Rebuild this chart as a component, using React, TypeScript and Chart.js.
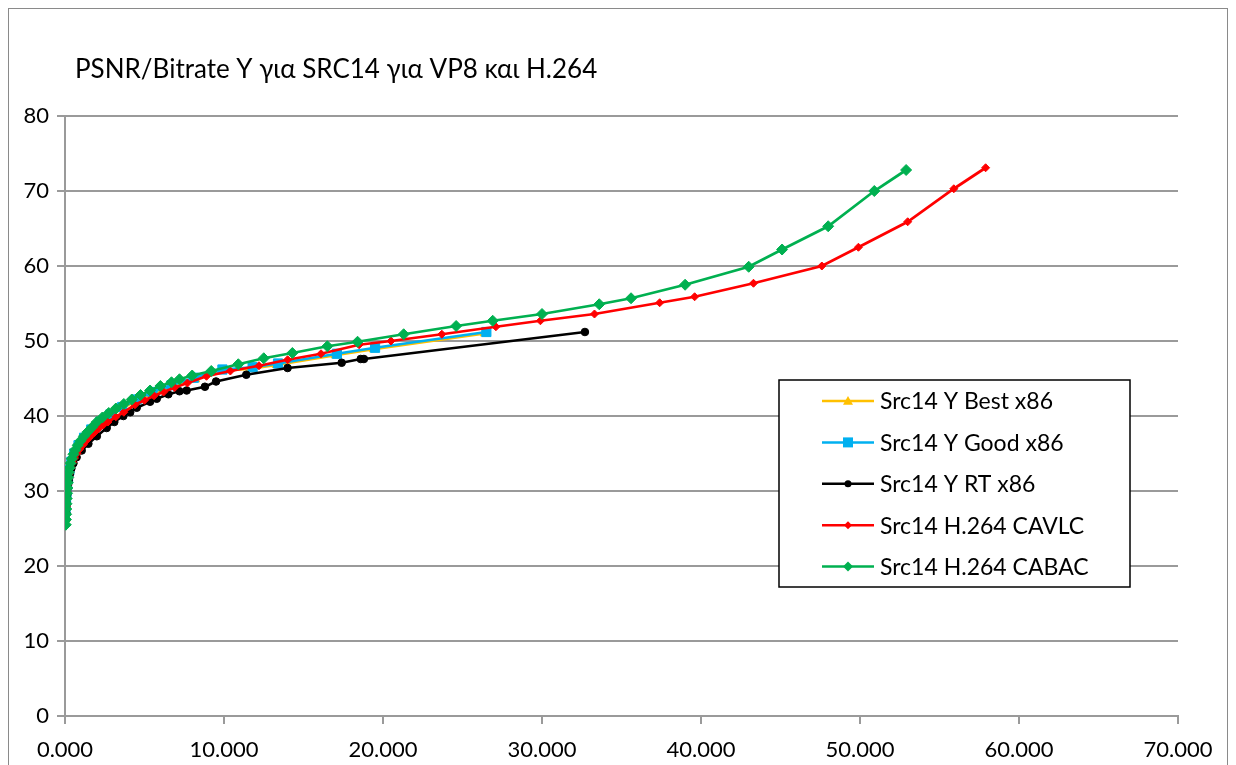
import React, { useEffect, useRef } from 'react';
import { Chart, registerables } from 'chart.js';

Chart.register(...registerables);

const chartTitle = 'PSNR/Bitrate Y για SRC14 για VP8 και H.264';
const seriesNames = [
  'Src14 Y Best x86',
  'Src14 Y Good x86',
  'Src14 Y RT x86',
  'Src14 H.264 CAVLC',
  'Src14 H.264 CABAC',
];
const xTickLabels = ['0.000', '10.000', '20.000', '30.000', '40.000', '50.000', '60.000', '70.000'];
const yTickValues = [0, 10, 20, 30, 40, 50, 60, 70, 80];

const bestX = [35, 50, 70, 95, 135, 200, 290, 410, 600, 870, 1230, 1680, 2250, 2900, 3650, 4550, 5600, 6800, 8200, 9800, 11700, 13300, 17000, 19400, 26400];
const bestY = [27.2, 28.1, 28.9, 29.6, 30.4, 31.4, 32.6, 33.7, 34.8, 35.9, 37.0, 38.0, 39.1, 40.1, 41.1, 42.1, 43.0, 44.0, 44.9, 46.0, 46.3, 46.8, 48.1, 48.9, 51.0];

const goodX = [30, 45, 65, 90, 130, 190, 280, 400, 580, 850, 1200, 1650, 2200, 2850, 3600, 4500, 5500, 6700, 8100, 9900, 11800, 13400, 17100, 19500, 26500];
const goodY = [27.4, 28.3, 29.1, 29.8, 30.6, 31.6, 32.8, 33.9, 35.0, 36.1, 37.1, 38.2, 39.2, 40.2, 41.2, 42.2, 43.2, 44.1, 45.1, 46.2, 46.5, 47.0, 48.3, 49.1, 51.2];

const rtX = [90, 110, 140, 180, 230, 300, 400, 530, 730, 1050, 1470, 2000, 2620, 3100, 3670, 4100, 4510, 5350, 5770, 6500, 7200, 7650, 8800, 9500, 11400, 14000, 17400, 18600, 18800, 32700];
const rtY = [27.0, 28.3, 29.5, 30.5, 31.4, 32.2, 33.0, 33.7, 34.5, 35.4, 36.3, 37.3, 38.4, 39.2, 40.0, 40.5, 41.1, 41.9, 42.3, 42.9, 43.3, 43.4, 43.9, 44.6, 45.5, 46.4, 47.1, 47.6, 47.6, 51.2];

const cavlcX = [70, 85, 100, 120, 150, 190, 240, 300, 380, 480, 600, 750, 930, 1150, 1380, 1600, 1850, 2100, 2400, 2700, 3200, 3700, 4400, 5000, 5600, 6200, 6900, 7700, 8900, 10400, 12200, 14000, 16100, 18500, 20500, 23700, 27100, 29900, 33300, 37400, 39600, 43300, 47600, 49900, 53000, 55900, 57900];
const cavlcY = [26.0, 27.0, 28.0, 29.0, 30.0, 30.9, 31.7, 32.4, 33.1, 33.8, 34.4, 35.0, 35.6, 36.2, 36.8, 37.3, 37.8, 38.3, 38.8, 39.2, 39.9, 40.5, 41.5, 42.1, 42.7, 43.2, 43.8, 44.4, 45.3, 46.0, 46.7, 47.5, 48.3, 49.5, 50.0, 50.9, 51.9, 52.7, 53.6, 55.1, 55.9, 57.7, 60.0, 62.5, 65.9, 70.3, 73.1];

const cabacX = [50, 60, 70, 80, 95, 110, 130, 150, 175, 205, 240, 290, 350, 430, 530, 650, 800, 980, 1190, 1430, 1700, 2000, 2350, 2750, 3200, 3700, 4200, 4750, 5350, 6000, 6700, 7200, 8000, 9200, 10900, 12500, 14300, 16500, 18400, 21300, 24600, 26900, 30000, 33600, 35600, 39000, 43000, 45100, 48000, 50900, 52900];
const cabacY = [25.5, 26.2, 26.9, 27.6, 28.3, 29.0, 29.7, 30.4, 31.1, 31.8, 32.5, 33.1, 33.7, 34.3, 34.9, 35.5, 36.1, 36.7, 37.3, 37.9, 38.5, 39.2, 39.8, 40.4, 41.0, 41.6, 42.2, 42.8, 43.4, 44.0, 44.5, 44.9, 45.4, 46.0, 46.9, 47.7, 48.4, 49.3, 49.9, 50.9, 52.0, 52.7, 53.6, 54.9, 55.7, 57.5, 59.9, 62.2, 65.3, 70.0, 72.8];

const seriesColors = ['#FFC000', '#00B0F0', '#000000', '#FF0000', '#00B050'];
const FONT = 'Lato, "Open Sans", "Noto Sans", sans-serif';

const toPoints = (xs: number[], ys: number[]) => xs.map((x, i) => ({ x, y: ys[i] }));

function drawMarker(ctx: CanvasRenderingContext2D, style: string, x: number, y: number, r: number, color: string) {
  ctx.save();
  ctx.fillStyle = color;
  ctx.beginPath();
  if (style === 'triangle') {
    ctx.moveTo(x, y - r);
    ctx.lineTo(x + r, y + r * 0.75);
    ctx.lineTo(x - r, y + r * 0.75);
    ctx.closePath();
  } else if (style === 'rect') {
    ctx.rect(x - r, y - r, 2 * r, 2 * r);
  } else if (style === 'circle') {
    ctx.arc(x, y, r, 0, Math.PI * 2);
  } else {
    ctx.moveTo(x - r, y);
    ctx.lineTo(x, y - r);
    ctx.lineTo(x + r, y);
    ctx.lineTo(x, y + r);
    ctx.closePath();
  }
  ctx.fill();
  ctx.restore();
}

const legendMarkers = [
  { style: 'triangle', r: 5 },
  { style: 'rect', r: 5 },
  { style: 'circle', r: 3.5 },
  { style: 'rectRot', r: 4 },
  { style: 'rectRot', r: 5 },
];

const titlePlugin = {
  id: 'leftTitle',
  afterDraw(chart: any) {
    const ctx = chart.ctx as CanvasRenderingContext2D;
    ctx.save();
    ctx.font = `26px ${FONT}`;
    ctx.fillStyle = '#000';
    ctx.textAlign = 'left';
    ctx.textBaseline = 'middle';
    ctx.fillText(chartTitle, 66, 61);
    ctx.restore();
  },
};

const boxLegendPlugin = {
  id: 'boxLegend',
  afterDraw(chart: any) {
    const ctx = chart.ctx as CanvasRenderingContext2D;
    const bx = 770, by = 371, bw = 351, bh = 207;
    ctx.save();
    ctx.fillStyle = '#ffffff';
    ctx.fillRect(bx, by, bw, bh);
    ctx.strokeStyle = '#000000';
    ctx.lineWidth = 1.5;
    ctx.strokeRect(bx, by, bw, bh);
    chart.data.datasets.forEach((ds: any, i: number) => {
      const cy = by + 21 + i * 41.4;
      ctx.strokeStyle = ds.borderColor;
      ctx.lineWidth = 2.5;
      ctx.beginPath();
      ctx.moveTo(bx + 43, cy);
      ctx.lineTo(bx + 95, cy);
      ctx.stroke();
      drawMarker(ctx, legendMarkers[i].style, bx + 69, cy, legendMarkers[i].r, ds.borderColor);
      ctx.fillStyle = '#000';
      ctx.font = `23px ${FONT}`;
      ctx.textAlign = 'left';
      ctx.textBaseline = 'middle';
      ctx.fillText(ds.label, bx + 101, cy + 1);
    });
    ctx.restore();
  },
};

export default function App() {
  const canvasRef = useRef<HTMLCanvasElement | null>(null);

  useEffect(() => {
    if (!canvasRef.current) return;
    const mk = (i: number, xs: number[], ys: number[], pointStyle: string, radius: number, width: number, order: number) => ({
      label: seriesNames[i],
      data: toPoints(xs, ys),
      borderColor: seriesColors[i],
      backgroundColor: seriesColors[i],
      pointBackgroundColor: seriesColors[i],
      pointBorderColor: seriesColors[i],
      pointBorderWidth: 1,
      pointStyle,
      pointRadius: radius,
      borderWidth: width,
      showLine: true,
      tension: 0,
      order,
    });
    const chart = new Chart(canvasRef.current, {
      type: 'scatter',
      data: {
        datasets: [
          mk(0, bestX, bestY, 'triangle', 5, 2.75, 5),
          mk(1, goodX, goodY, 'rect', 6.5, 2.75, 4),
          mk(2, rtX, rtY, 'circle', 3.8, 2.5, 3),
          mk(3, cavlcX, cavlcY, 'rectRot', 4, 2.75, 2),
          mk(4, cabacX, cabacY, 'rectRot', 5.5, 2.75, 1),
        ] as any,
      },
      options: {
        animation: false,
        responsive: true,
        maintainAspectRatio: false,
        layout: { padding: { left: 0, right: 49, top: 107, bottom: 13 } },
        plugins: {
          legend: { display: false },
          title: { display: false },
          tooltip: { enabled: false },
        },
        scales: {
          x: {
            type: 'linear',
            min: 0,
            max: 70000,
            afterFit: (scale: any) => { scale.height = 50; },
            border: { display: true, color: '#9a9a9a', width: 2 },
            grid: { drawOnChartArea: false, drawTicks: true, tickLength: 8, color: '#9a9a9a', lineWidth: 2 },
            ticks: {
              stepSize: 10000,
              padding: 13,
              color: '#000',
              font: { family: FONT, size: 22 },
              maxRotation: 0,
              callback: (_v: any, idx: number) => xTickLabels[idx],
            },
          },
          y: {
            type: 'linear',
            min: 0,
            max: 80,
            afterFit: (scale: any) => { scale.width = 56; },
            afterBuildTicks: (scale: any) => { scale.ticks = yTickValues.map((v) => ({ value: v })); },
            border: { display: true, color: '#9a9a9a', width: 2 },
            grid: { color: '#9a9a9a', lineWidth: 2, tickLength: 8 },
            ticks: {
              padding: 8,
              color: '#000',
              font: { family: FONT, size: 22 },
              callback: (v: any) => String(v),
            },
          },
        },
      } as any,
      plugins: [titlePlugin, boxLegendPlugin],
    });
    return () => chart.destroy();
  }, []);

  return (
    <div style={{ position: 'relative', height: '770px', border: '1px solid #8a8a8a', background: '#fff' }}>
      <canvas ref={canvasRef} />
    </div>
  );
}
